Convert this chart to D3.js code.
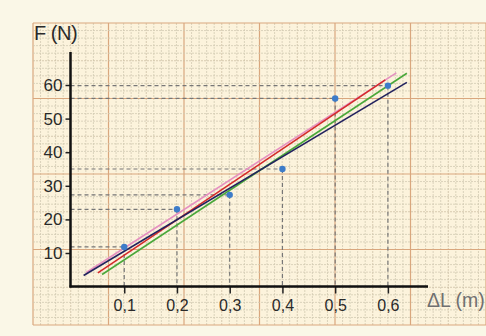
<!DOCTYPE html>
<html>
<head>
<meta charset="utf-8">
<script src="https://cdn.jsdelivr.net/npm/d3@7"></script>
<style>
  html, body { margin: 0; padding: 0; background: #f9f6e4; }
  svg { display: block; }
  text { font-family: "Liberation Sans", Arial, sans-serif; }
</style>
</head>
<body>
<div id="chart"></div>
<script>
// measured points
const dL = [0.1, 0.2, 0.3, 0.4, 0.5, 0.6];
const force = [11.8, 23, 27.3, 35, 56, 59.8];

// fitted lines (start / end in data units)
const fitNames = ['pink', 'red', 'green', 'navy'];
const fitX0 = [0.028, 0.05, 0.058, 0.023];
const fitF0 = [4.2, 4.1, 3.6, 3.3];
const fitX1 = [0.616, 0.595, 0.636, 0.636];
const fitF1 = [63.6, 61.5, 63.5, 60.8];

const xTicks = [0.1, 0.2, 0.3, 0.4, 0.5, 0.6];
const xTickLabels = ['0,1', '0,2', '0,3', '0,4', '0,5', '0,6'];
const yTicks = [10, 20, 30, 40, 50, 60];

const colors = { pink: '#e690c0', red: '#d42a2a', green: '#4aa83a', navy: '#22225e' };

const W = 486, H = 336;
const svg = d3.select('#chart').append('svg')
  .attr('width', W).attr('height', H);

svg.append('rect').attr('width', W).attr('height', H).attr('fill', '#faf7e7');

// graph paper
const paper = { x: 33, y: 23, w: 453, h: 302 };
const g = svg.append('g');
g.append('rect')
  .attr('x', paper.x).attr('y', paper.y)
  .attr('width', paper.w).attr('height', paper.h)
  .attr('fill', '#fcf3dc');

const major = 75.5, minor = major / 10;
const gridColor = (isMajor, isMid) => isMajor ? '#d9a77e' : (isMid ? '#cdbfa3' : '#d2cab3');
for (let i = 0; paper.x + i * minor <= paper.x + paper.w + 0.5; i++) {
  const px = paper.x + i * minor;
  const isMajor = i % 10 === 0, isMid = i % 5 === 0;
  g.append('line')
    .attr('x1', px).attr('x2', px).attr('y1', paper.y).attr('y2', paper.y + paper.h)
    .attr('stroke', gridColor(isMajor, isMid))
    .attr('stroke-width', isMajor ? 1.2 : 0.8)
    .attr('stroke-dasharray', isMajor ? null : '2,1');
}
for (let j = 0; paper.y + j * minor <= paper.y + paper.h + 0.5; j++) {
  const py = paper.y + j * minor;
  const isMajor = j % 10 === 0, isMid = j % 5 === 0;
  g.append('line')
    .attr('y1', py).attr('y2', py).attr('x1', paper.x).attr('x2', paper.x + paper.w)
    .attr('stroke', gridColor(isMajor, isMid))
    .attr('stroke-width', isMajor ? 1.2 : 0.8)
    .attr('stroke-dasharray', isMajor ? null : '2,1');
}

// scales
const x = d3.scaleLinear().domain([0, 0.6]).range([71.5, 387.9]);
const y = d3.scaleLinear().domain([0, 60]).range([286.6, 85]);
const axisX = 70.5, axisY = 286.5;

// dashed projections
const proj = svg.append('g')
  .attr('stroke', '#777').attr('stroke-width', 1.2)
  .attr('stroke-dasharray', '4,3').attr('fill', 'none');
dL.forEach((d, i) => {
  proj.append('line')
    .attr('x1', axisX).attr('x2', x(d))
    .attr('y1', y(force[i])).attr('y2', y(force[i]));
  proj.append('line')
    .attr('x1', x(d)).attr('x2', x(d))
    .attr('y1', y(force[i])).attr('y2', axisY);
});

// fitted lines
fitNames.forEach((n, i) => {
  svg.append('line')
    .attr('x1', x(fitX0[i])).attr('y1', y(fitF0[i]))
    .attr('x2', x(fitX1[i])).attr('y2', y(fitF1[i]))
    .attr('stroke', colors[n]).attr('stroke-width', 1.6);
});

// points
svg.append('g').selectAll('circle')
  .data(dL)
  .join('circle')
  .attr('cx', d => x(d))
  .attr('cy', (d, i) => y(force[i]))
  .attr('r', 3.2)
  .attr('fill', '#3d7cc9');

// axes
const yAxis = svg.append('g')
  .attr('transform', `translate(${axisX},0)`)
  .call(d3.axisLeft(y).tickValues(yTicks).tickSize(5).tickPadding(3));
yAxis.select('.domain').remove();
yAxis.selectAll('.tick line').attr('stroke', '#222').attr('stroke-width', 1.5);
yAxis.selectAll('.tick text')
  .attr('font-size', 17).attr('fill', '#2a2a2a')
  .style('font-family', '"Liberation Sans", Arial, sans-serif');

const xAxis = svg.append('g')
  .attr('transform', `translate(0,${axisY})`)
  .call(d3.axisBottom(x).tickValues(xTicks).tickSize(7).tickPadding(6)
    .tickFormat((d, i) => xTickLabels[i]));
xAxis.select('.domain').remove();
xAxis.selectAll('.tick line').attr('stroke', '#222').attr('stroke-width', 1.5);
xAxis.selectAll('.tick text')
  .attr('font-size', 16).attr('fill', '#2a2a2a')
  .style('font-family', '"Liberation Sans", Arial, sans-serif');

svg.append('line')
  .attr('x1', axisX).attr('x2', axisX).attr('y1', 52).attr('y2', axisY + 1)
  .attr('stroke', '#111').attr('stroke-width', 2.5);
svg.append('line')
  .attr('x1', axisX - 1).attr('x2', 428).attr('y1', axisY).attr('y2', axisY)
  .attr('stroke', '#111').attr('stroke-width', 2.5);

// axis titles
svg.append('text')
  .attr('x', 34).attr('y', 40)
  .attr('font-size', 20).attr('letter-spacing', -0.5).attr('fill', '#2a2a2a')
  .text('F (N)');
svg.append('text')
  .attr('x', 427).attr('y', 307)
  .attr('font-size', 19.5).attr('fill', '#707070')
  .text('ΔL (m)');
</script>
</body>
</html>
